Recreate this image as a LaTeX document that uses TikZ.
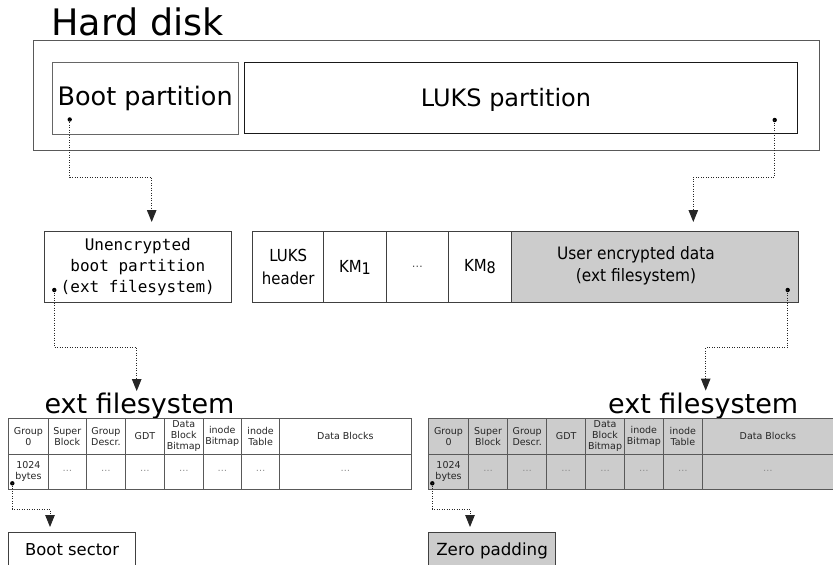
\documentclass[tikz,border=0pt]{standalone}
\usepackage{fontspec}
\setmainfont{DejaVu Sans}
\setmonofont{DejaVu Sans Mono}
\newfontfamily\condf[FakeStretch=0.9]{DejaVu Sans}
\usetikzlibrary{arrows.meta}
\newcommand{\fsz}[2]{\fontsize{#1pt}{#2pt}\selectfont}
\newcommand{\dd}{{\color{black!45}…}}
\newcommand{\fstable}[3]{%
  \foreach \t/\u [count=\i from 0] in {{Group\\0}/{1024\\bytes},{Super\\Block}/{\dd},{Group\\Descr.}/{\dd},{GDT}/{\dd},{Data\\Block\\Bitmap}/{\dd},{inode\\Bitmap}/{\dd},{inode\\Table}/{\dd},{Data Blocks}/{\dd}}{%
    \pgfmathsetmacro\xa{{#3}[\i]}%
    \pgfmathsetmacro\xb{{#3}[\i+1]}%
    \node[cell, fill=#2, minimum width={(\xb-\xa)*1pt}, minimum height=35.5pt] (#1t\i) at (\xa,418) {\t};
    \node[cell, fill=#2, minimum width={(\xb-\xa)*1pt}, minimum height=35pt] (#1b\i) at (\xa,453.5) {\u};
  }%
}
\begin{document}
\begin{tikzpicture}[x=1pt,y=-1pt,
  box/.style={draw=black!75, line width=0.9pt, anchor=north west, inner sep=0pt},
  cell/.style={draw=black!65, line width=0.8pt, anchor=north west, inner sep=0pt, align=center, font=\fsz{9.5}{11}, text=black!85},
  dot/.style={circle, fill=black, inner sep=0pt, minimum size=4.4pt},
  conn/.style={draw=black!85, line width=0.9pt, dash pattern=on 0.9pt off 1.6pt, -{Triangle[length=12pt,width=9.5pt]}},
  ttl/.style={anchor=base west, inner sep=0pt}
]
\clip (0,0) rectangle (833,565);
% --- hard disk ---
\node[ttl, font=\fsz{36.5}{40}] (title) at (51,35) {Hard disk};
\node[box, draw=black!65, minimum width=785.5pt, minimum height=110pt] (disk) at (33,39.5) {};
\node[box, draw=black!60, minimum width=186pt, minimum height=72pt, font=\fsz{25.5}{28}] (bootp) at (51.7,62.3) {Boot partition};
\node[box, draw=black!90, minimum width=552.4pt, minimum height=71.5pt] (luksp) at (244.3,61.5) {};
\node[font=\fsz{24}{28}, anchor=base, inner sep=0pt] (lukstxt) at (506,106) {LUKS partition};
\node[dot] (d1) at (69.7,119.5) {};
\node[dot] (d2) at (774.7,120) {};
% --- second level ---
\node[box, minimum width=187.3pt, minimum height=71.3pt, align=center, font=\ttfamily\fsz{16}{21}] (unenc) at (43.7,231) {Unencrypted\\boot partition\\(ext filesystem)};
\node[box, minimum width=71pt, minimum height=71pt, align=center, font=\condf\fsz{16.6}{22.3}] (lhdr) at (252.3,231) {LUKS\\header};
\node[box, minimum width=62.4pt, minimum height=71pt, font=\condf\fsz{16.6}{18}] (km1) at (323.3,231) {KM\raisebox{-2pt}{\fsz{16}{16}1}};
\node[box, minimum width=62.6pt, minimum height=71pt, font=\fsz{11}{13}, text=black!70] (kmd) at (385.7,231) {…};
\node[box, minimum width=62.4pt, minimum height=71pt, font=\condf\fsz{16.6}{18}] (km8) at (448.3,231) {KM\raisebox{-2pt}{\fsz{16}{16}8}};
\node[box, fill=black!20, minimum width=287pt, minimum height=71pt] (user) at (510.7,231) {};
\node[align=center, font=\condf\fsz{17.1}{21.5}, inner sep=0pt] (usertxt) at (636,266) {User encrypted data\\(ext filesystem)};
\node[dot] (d3) at (54.3,290) {};
\node[dot] (d4) at (787.7,290) {};
% --- ext filesystems ---
\node[ttl, font=\fsz{27}{30}] (fsL) at (44.3,413.3) {ext filesystem};
\node[ttl, font=\fsz{27}{30}] (fsR) at (608,413.3) {ext filesystem};
\fstable{L}{white}{8.3,47.7,86,125,164,202.7,241,279.3,410.7}
\fstable{R}{black!20}{428.3,468,507.3,546.3,585.3,624,663,702,833}
\node[dot] (d5) at (12.3,483.3) {};
\node[dot] (d6) at (432.3,483.3) {};
\node[box, minimum width=126.7pt, minimum height=35.6pt, font=\fsz{16.4}{18}] (boots) at (8.3,531.7) {Boot sector};
\node[box, fill=black!20, minimum width=126.7pt, minimum height=37.4pt, font=\fsz{16.7}{18}] (zero) at (428.3,531.7) {Zero padding};
% --- connectors ---
\coordinate (k1) at (151.7,177);
\coordinate (k2) at (693.3,177);
\coordinate (k3) at (136.7,347.3);
\coordinate (k4) at (705.7,347.3);
\coordinate (k5) at (50,509);
\coordinate (k6) at (470,509);
\draw[conn, shorten >=9pt] (d1.center) |- (k1) -- (k1 |- unenc.north);
\draw[conn, shorten >=9pt] (d2.center) |- (k2) -- (k2 |- user.north);
\draw[conn, shorten >=1.5pt] (d3.center) |- (k3) -- (k3 |- fsL.north);
\draw[conn, shorten >=2pt] (d4.center) |- (k4) -- (k4 |- fsR.north);
\draw[conn, shorten >=4.7pt] (d5.center) |- (k5) -- (k5 |- boots.north);
\draw[conn, shorten >=4.7pt] (d6.center) |- (k6) -- (k6 |- zero.north);
\end{tikzpicture}
\end{document}
